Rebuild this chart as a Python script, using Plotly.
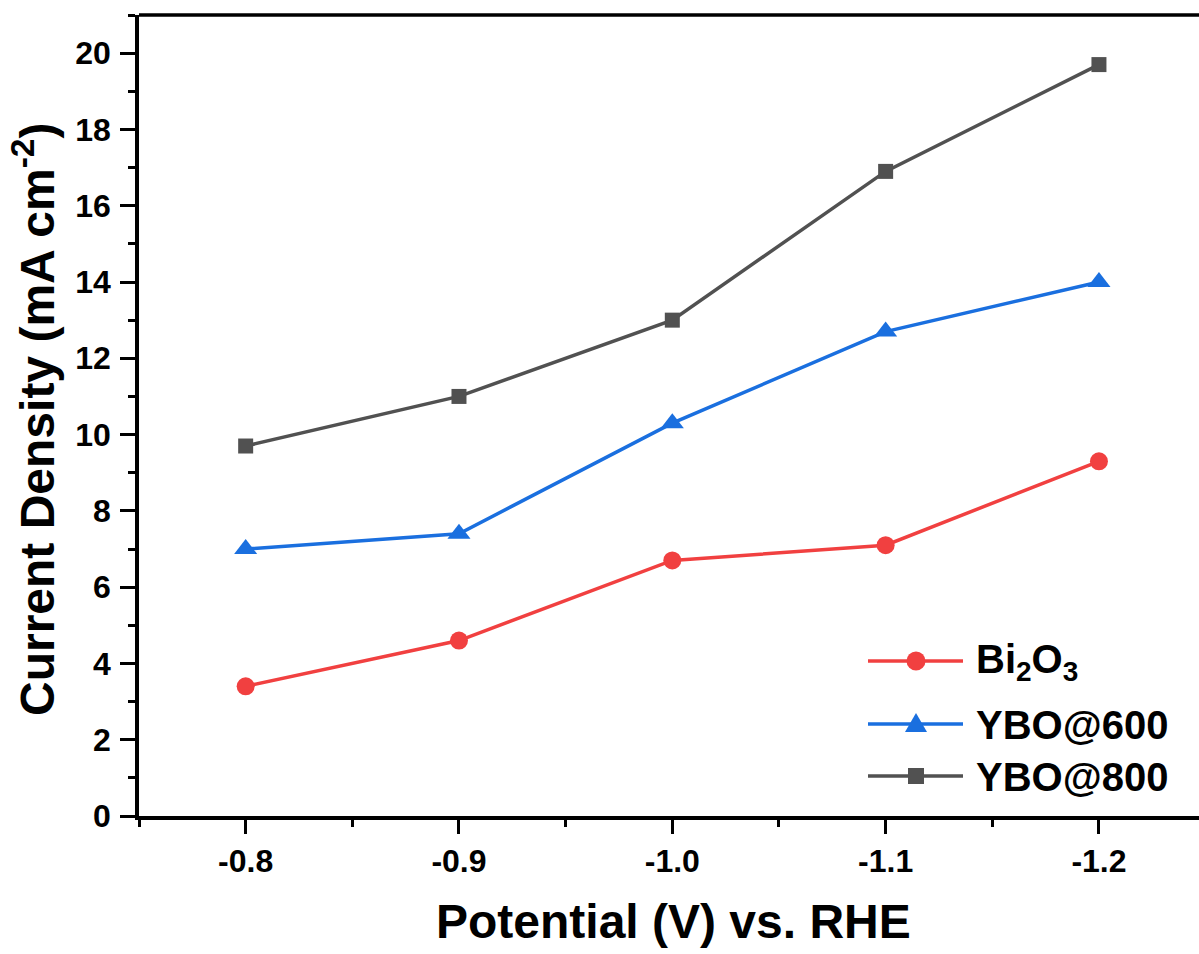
import plotly.graph_objects as go

# Potential (V vs. RHE) and current density (mA cm^-2) for each catalyst
potential = [-0.8, -0.9, -1.0, -1.1, -1.2]
bi2o3 = [3.4, 4.6, 6.7, 7.1, 9.3]
ybo600 = [7.0, 7.4, 10.3, 12.7, 14.0]
ybo800 = [9.7, 11.0, 13.0, 16.9, 19.7]

x_tick_vals = [-0.8, -0.9, -1.0, -1.1, -1.2]
x_tick_text = ["-0.8", "-0.9", "-1.0", "-1.1", "-1.2"]
x_minor_vals = [-0.75, -0.85, -0.95, -1.05, -1.15, -1.25]
y_tick_vals = [0, 2, 4, 6, 8, 10, 12, 14, 16, 18, 20]
y_minor_vals = [1, 3, 5, 7, 9, 11, 13, 15, 17, 19, 21]

RED, BLUE, GREY = "#F14040", "#1A6FDF", "#515151"
FONT = "Liberation Sans, Arial, sans-serif"

W, H = 1199, 954
ML, MR, MT, MB = 139, 0, 15, 138
PW, PH = W - ML - MR, H - MT - MB


def px(x):
    return (x - ML) / PW


def py(y):
    return (H - MB - y) / PH


series = [
    ("Bi<sub>2</sub>O<sub>3</sub>", bi2o3, RED, "circle", 18),
    ("YBO@600", ybo600, BLUE, "triangle-up", 20),
    ("YBO@800", ybo800, GREY, "square", 15),
]

fig = go.Figure()
for name, vals, color, sym, size in series:
    fig.add_trace(go.Scatter(
        x=potential, y=vals, name=name, mode="lines+markers",
        line=dict(color=color, width=3.5),
        marker=dict(symbol=sym, size=size, color=color, line=dict(width=0)),
        showlegend=False,
    ))

axis_common = dict(
    showline=True, linecolor="black", linewidth=3.5,
    ticks="outside", tickcolor="black", tickwidth=3,
    showgrid=False, zeroline=False,
    tickfont=dict(family=FONT, size=32, color="black", weight="bold"),
)

fig.update_xaxes(
    range=[-0.75, -1.2469], tickmode="array",
    tickvals=x_tick_vals, ticktext=x_tick_text, ticklen=14,
    minor=dict(tickmode="array", tickvals=x_minor_vals, ticks="outside",
               ticklen=7, tickwidth=3, tickcolor="black"),
    ticklabelstandoff=0,
    **axis_common,
)
fig.update_yaxes(
    range=[0, 21], tickmode="array", tickvals=y_tick_vals, ticklen=15,
    minor=dict(tickmode="array", tickvals=y_minor_vals, ticks="outside",
               ticklen=7, tickwidth=3, tickcolor="black"),
    ticklabelstandoff=3,
    **axis_common,
)

shapes = [
    # top frame line
    dict(type="line", xref="paper", yref="paper", x0=0, x1=1, y0=1, y1=1,
         line=dict(color="black", width=3.5)),
]
annotations = [
    dict(text="Potential (V) vs. RHE", xref="paper", yref="paper",
         x=px(673), y=py(921), xanchor="center", yanchor="middle",
         showarrow=False, font=dict(family=FONT, size=48, color="black", weight="bold")),
    dict(text="Current Density (mA cm<sup>-2</sup>)", xref="paper", yref="paper",
         x=px(34), y=py(419), xanchor="center", yanchor="middle", textangle=-90,
         showarrow=False, font=dict(family=FONT, size=48, color="black", weight="bold")),
]

# legend keys
legend_rows = [(661, 0), (724, 1), (776, 2)]
for yrow, i in legend_rows:
    name, _, color, sym, size = series[i]
    shapes.append(dict(type="line", xref="paper", yref="paper",
                       x0=px(868), x1=px(963), y0=py(yrow), y1=py(yrow),
                       line=dict(color=color, width=3.5)))
    cx = 916
    if sym == "circle":
        r = 9.5
        shapes.append(dict(type="circle", xref="paper", yref="paper",
                           x0=px(cx - r), x1=px(cx + r), y0=py(yrow + r), y1=py(yrow - r),
                           fillcolor=color, line=dict(width=0)))
    elif sym == "square":
        r = 8
        shapes.append(dict(type="rect", xref="paper", yref="paper",
                           x0=px(cx - r), x1=px(cx + r), y0=py(yrow + r), y1=py(yrow - r),
                           fillcolor=color, line=dict(width=0)))
    else:
        path = "M {},{} L {},{} L {},{} Z".format(
            px(cx - 11), py(yrow + 8), px(cx + 11), py(yrow + 8), px(cx), py(yrow - 11))
        shapes.append(dict(type="path", xref="paper", yref="paper", path=path,
                           fillcolor=color, line=dict(width=0)))
    annotations.append(dict(text=name, xref="paper", yref="paper",
                            x=px(974), y=py(yrow + 1), xanchor="left", yanchor="middle",
                            showarrow=False,
                            font=dict(family=FONT, size=40, color="black", weight="bold")))

fig.update_layout(
    width=W, height=H,
    margin=dict(l=ML, r=MR, t=MT, b=MB, pad=0),
    paper_bgcolor="white", plot_bgcolor="white",
    shapes=shapes, annotations=annotations,
    showlegend=False,
)

fig.write_html("out.html")
